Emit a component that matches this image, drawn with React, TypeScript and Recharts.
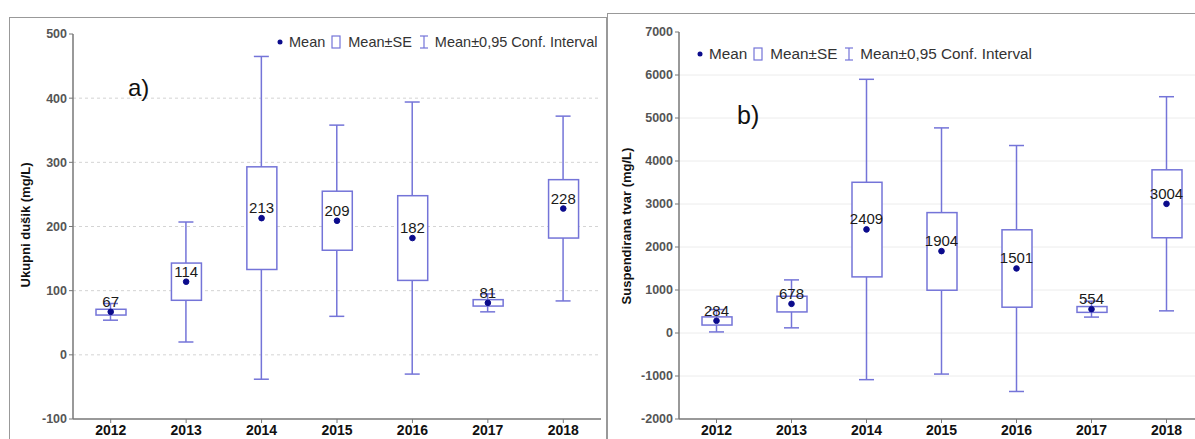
import React from "react";
import { ComposedChart, Bar, Line, XAxis, YAxis, CartesianGrid, LabelList } from "recharts";

const years = ["2012", "2013", "2014", "2015", "2016", "2017", "2018"];

// a) Ukupni dušik
const nMean = [67, 114, 213, 209, 182, 81, 228];
const nSeLow = [62, 85, 133, 163, 116, 76, 182];
const nSeHigh = [71, 143, 293, 255, 248, 86, 273];
const nCiLow = [54, 20, -38, 60, -30, 67, 84];
const nCiHigh = [80, 207, 465, 358, 394, 95, 372];
const nTicks = [-100, 0, 100, 200, 300, 400, 500];

// b) Suspendirana tvar
const sMean = [284, 678, 2409, 1904, 1501, 554, 3004];
const sSeLow = [185, 490, 1305, 995, 600, 480, 2215];
const sSeHigh = [375, 855, 3505, 2800, 2400, 615, 3795];
const sCiLow = [25, 120, -1085, -955, -1360, 370, 515];
const sCiHigh = [545, 1235, 5900, 4770, 4360, 740, 5495];
const sTicks = [-2000, -1000, 0, 1000, 2000, 3000, 4000, 5000, 6000, 7000];

const BOX = "#7474d8";
const DOT = "#0b0b8c";
const FONT = '"Liberation Sans", Arial, sans-serif';

const buildRows = (mean: number[], seLo: number[], seHi: number[], ciLo: number[], ciHi: number[]) =>
  years.map((year, i) => ({
    year,
    mean: mean[i],
    se: [seLo[i], seHi[i]],
    ci: [ciLo[i], ciHi[i]],
  }));

const Whisker = (props: any) => {
  const { x, y, width, height } = props;
  const top = Math.min(y, y + height);
  const bottom = Math.max(y, y + height);
  const cx = x + width / 2;
  return (
    <g stroke={BOX} strokeWidth={1.5}>
      <line x1={cx} x2={cx} y1={top} y2={bottom} />
      <line x1={x} x2={x + width} y1={top} y2={top} />
      <line x1={x} x2={x + width} y1={bottom} y2={bottom} />
    </g>
  );
};

const Box = (props: any) => {
  const { x, y, width, height } = props;
  const top = Math.min(y, y + height);
  return <rect x={x} y={top} width={width} height={Math.abs(height)} fill="#fff" stroke={BOX} strokeWidth={1.5} />;
};

const Legend = ({ left, top, size }: { left: number; top: number; size: number }) => (
  <div
    style={{
      position: "absolute",
      left,
      top,
      display: "flex",
      alignItems: "center",
      fontFamily: FONT,
      fontSize: size,
      color: "#333",
      whiteSpace: "nowrap",
    }}
  >
    <svg width={6} height={6}>
      <circle cx={3} cy={3} r={2.5} fill={DOT} />
    </svg>
    <span style={{ marginLeft: 6 }}>Mean</span>
    <svg width={10} height={14} style={{ marginLeft: 6 }}>
      <rect x={1} y={1} width={8} height={12} fill="none" stroke={BOX} strokeWidth={1.2} />
    </svg>
    <span style={{ marginLeft: 7 }}>Mean±SE</span>
    <svg width={10} height={14} style={{ marginLeft: 7 }}>
      <g stroke={BOX} strokeWidth={1.2}>
        <line x1={5} x2={5} y1={1} y2={13} />
        <line x1={1} x2={9} y1={1} y2={1} />
        <line x1={1} x2={9} y1={13} y2={13} />
      </g>
    </svg>
    <span style={{ marginLeft: 6 }}>Mean±0,95 Conf. Interval</span>
  </div>
);

type PanelProps = {
  rows: any[];
  width: number;
  top: number;
  axisWidth: number;
  domain: [number, number];
  ticks: number[];
  gridValues: number[];
  gridDash?: string;
  gridColor: string;
};

const Panel = ({ rows, width, top, axisWidth, domain, ticks, gridValues, gridDash, gridColor }: PanelProps) => (
  <ComposedChart width={width} height={439} data={rows} margin={{ top, right: 0, bottom: 0, left: 0 }}>
    <CartesianGrid
      xAxisId="a"
      vertical={false}
      horizontalValues={gridValues}
      stroke={gridColor}
      strokeDasharray={gridDash}
    />
    <XAxis
      xAxisId="a"
      dataKey="year"
      height={20}
      tickSize={4}
      tickLine={{ stroke: "#777" }}
      axisLine={{ stroke: "#777", strokeWidth: 1.5 }}
      tick={{ fill: "#111", fontSize: 14, fontWeight: "bold", fontFamily: FONT }}
      interval={0}
    />
    <XAxis xAxisId="b" dataKey="year" hide />
    <YAxis
      width={axisWidth}
      domain={domain}
      ticks={ticks}
      interval={0}
      tickSize={4}
      tickLine={{ stroke: "#777" }}
      axisLine={{ stroke: "#777", strokeWidth: 1.5 }}
      tick={{ fill: "#555", fontSize: 12.5, fontWeight: "bold", fontFamily: FONT }}
    />
    <Bar xAxisId="b" dataKey="ci" barSize={15} shape={<Whisker />} isAnimationActive={false} />
    <Bar xAxisId="a" dataKey="se" barSize={30} shape={<Box />} isAnimationActive={false} />
    <Line
      xAxisId="a"
      dataKey="mean"
      stroke="none"
      dot={{ r: 2.8, fill: DOT, stroke: DOT }}
      activeDot={false}
      isAnimationActive={false}
    >
      <LabelList dataKey="mean" position="top" offset={5} fill="#1a1a1a" fontSize={15} fontFamily={FONT} />
    </Line>
  </ComposedChart>
);

const nRows = buildRows(nMean, nSeLow, nSeHigh, nCiLow, nCiHigh);
const sRows = buildRows(sMean, sSeLow, sSeHigh, sCiLow, sCiHigh);

const axisTitle = (left: number, top: number): React.CSSProperties => ({
  position: "absolute",
  left,
  top,
  transform: "translate(-50%, -50%) rotate(-90deg)",
  fontFamily: FONT,
  fontSize: 13,
  fontWeight: "bold",
  color: "#111",
  whiteSpace: "nowrap",
});

export default function App() {
  return (
    <div style={{ position: "absolute", left: 0, top: 0, width: 1195, height: 439, overflow: "hidden", background: "#fff" }}>
      <div style={{ position: "absolute", left: 9, top: 17, width: 596, height: 440, border: "1.5px solid #999" }} />
      <div style={{ position: "absolute", left: 607, top: 13, width: 600, height: 440, border: "1.5px solid #999" }} />

      <div style={{ position: "absolute", left: 0, top: 0 }}>
        <Panel
          rows={nRows}
          width={601}
          top={34}
          axisWidth={73}
          domain={[-100, 500]}
          ticks={nTicks}
          gridValues={[0, 100, 200, 300, 400]}
          gridDash="3 3"
          gridColor="#d4d4d4"
        />
      </div>
      <div style={{ position: "absolute", left: 600, top: 0 }}>
        <Panel
          rows={sRows}
          width={604}
          top={32}
          axisWidth={79}
          domain={[-2000, 7000]}
          ticks={sTicks}
          gridValues={[-1000, 0, 1000, 2000, 3000, 4000, 5000, 6000]}
          gridColor="#ececec"
        />
      </div>

      <div style={axisTitle(25, 225)}>Ukupni dušik (mg/L)</div>
      <div style={axisTitle(626, 226)}>Suspendirana tvar (mg/L)</div>

      <div style={{ position: "absolute", left: 128, top: 74, fontFamily: FONT, fontSize: 24, color: "#111" }}>a)</div>
      <div style={{ position: "absolute", left: 737, top: 101, fontFamily: FONT, fontSize: 25, color: "#111" }}>b)</div>

      <Legend left={277} top={34} size={14.5} />
      <Legend left={697} top={45} size={15.3} />
    </div>
  );
}
